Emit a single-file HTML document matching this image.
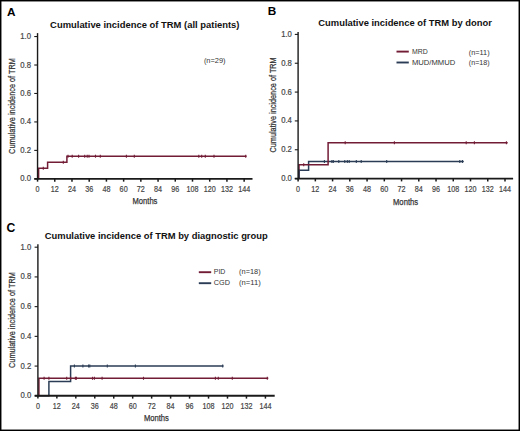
<!DOCTYPE html><html><head><meta charset="utf-8"><style>html,body{margin:0;padding:0;background:#fff;}svg{display:block;}</style></head><body>
<svg width="520" height="431" viewBox="0 0 520 431" font-family="Liberation Sans, sans-serif">
<rect x="0" y="0" width="520" height="431" fill="#fff"/>
<text x="132.50" y="204.30" font-size="9.6" font-weight="normal" fill="#333333" text-anchor="start" textLength="24.9" lengthAdjust="spacingAndGlyphs" stroke="#333333" stroke-width="0.25">Months</text>
<text transform="translate(15.10,153.90) rotate(-90)" font-size="9.8" fill="#333333" stroke="#333333" stroke-width="0.25" textLength="95.9" lengthAdjust="spacingAndGlyphs">Cumulative incidence of TRM</text>
<text x="50.10" y="28.00" font-size="9.9" font-weight="bold" fill="#111" text-anchor="start" textLength="189.4" lengthAdjust="spacingAndGlyphs">Cumulative incidence of TRM (all patients)</text>
<text x="6.90" y="16.30" font-size="11.8" font-weight="bold" fill="#000" text-anchor="start">A</text>
<path d="M38.60,178.85 L38.60,168.30 L47.60,168.30 L47.60,162.30 L66.90,162.30 L66.90,156.20 L246.60,156.20" fill="none" stroke="#721c36" stroke-width="1.5" stroke-linejoin="miter"/>
<line x1="43.30" y1="166.80" x2="43.30" y2="169.80" stroke="#721c36" stroke-width="1.1"/>
<line x1="63.30" y1="160.80" x2="63.30" y2="163.80" stroke="#721c36" stroke-width="1.1"/>
<line x1="68.00" y1="154.70" x2="68.00" y2="157.70" stroke="#721c36" stroke-width="1.1"/>
<line x1="72.20" y1="154.70" x2="72.20" y2="157.70" stroke="#721c36" stroke-width="1.1"/>
<line x1="78.60" y1="154.70" x2="78.60" y2="157.70" stroke="#721c36" stroke-width="1.1"/>
<line x1="84.70" y1="154.70" x2="84.70" y2="157.70" stroke="#721c36" stroke-width="1.1"/>
<line x1="87.20" y1="154.70" x2="87.20" y2="157.70" stroke="#721c36" stroke-width="1.1"/>
<line x1="89.00" y1="154.70" x2="89.00" y2="157.70" stroke="#721c36" stroke-width="1.1"/>
<line x1="95.50" y1="154.70" x2="95.50" y2="157.70" stroke="#721c36" stroke-width="1.1"/>
<line x1="100.30" y1="154.70" x2="100.30" y2="157.70" stroke="#721c36" stroke-width="1.1"/>
<line x1="126.40" y1="154.70" x2="126.40" y2="157.70" stroke="#721c36" stroke-width="1.1"/>
<line x1="134.30" y1="154.70" x2="134.30" y2="157.70" stroke="#721c36" stroke-width="1.1"/>
<line x1="198.80" y1="154.70" x2="198.80" y2="157.70" stroke="#721c36" stroke-width="1.1"/>
<line x1="201.70" y1="154.70" x2="201.70" y2="157.70" stroke="#721c36" stroke-width="1.1"/>
<line x1="205.30" y1="154.70" x2="205.30" y2="157.70" stroke="#721c36" stroke-width="1.1"/>
<line x1="214.00" y1="154.70" x2="214.00" y2="157.70" stroke="#721c36" stroke-width="1.1"/>
<line x1="245.70" y1="154.70" x2="245.70" y2="157.70" stroke="#721c36" stroke-width="1.1"/>
<line x1="37.55" y1="33.10" x2="37.55" y2="179.85" stroke="#1a1a1a" stroke-width="1.4"/>
<line x1="34.30" y1="178.85" x2="252.50" y2="178.85" stroke="#1a1a1a" stroke-width="1.9"/>
<line x1="34.25" y1="178.85" x2="37.55" y2="178.85" stroke="#1a1a1a" stroke-width="1.1"/>
<text transform="translate(31.00,181.35) scale(0.88,1)" font-size="8.8" fill="#454545" stroke="#454545" stroke-width="0.2" text-anchor="end">0.0</text>
<line x1="34.25" y1="150.39" x2="37.55" y2="150.39" stroke="#1a1a1a" stroke-width="1.1"/>
<text transform="translate(31.00,152.89) scale(0.88,1)" font-size="8.8" fill="#454545" stroke="#454545" stroke-width="0.2" text-anchor="end">0.2</text>
<line x1="34.25" y1="121.93" x2="37.55" y2="121.93" stroke="#1a1a1a" stroke-width="1.1"/>
<text transform="translate(31.00,124.43) scale(0.88,1)" font-size="8.8" fill="#454545" stroke="#454545" stroke-width="0.2" text-anchor="end">0.4</text>
<line x1="34.25" y1="93.47" x2="37.55" y2="93.47" stroke="#1a1a1a" stroke-width="1.1"/>
<text transform="translate(31.00,95.97) scale(0.88,1)" font-size="8.8" fill="#454545" stroke="#454545" stroke-width="0.2" text-anchor="end">0.6</text>
<line x1="34.25" y1="65.01" x2="37.55" y2="65.01" stroke="#1a1a1a" stroke-width="1.1"/>
<text transform="translate(31.00,67.51) scale(0.88,1)" font-size="8.8" fill="#454545" stroke="#454545" stroke-width="0.2" text-anchor="end">0.8</text>
<line x1="34.25" y1="36.55" x2="37.55" y2="36.55" stroke="#1a1a1a" stroke-width="1.1"/>
<text transform="translate(31.00,39.05) scale(0.88,1)" font-size="8.8" fill="#454545" stroke="#454545" stroke-width="0.2" text-anchor="end">1.0</text>
<line x1="37.55" y1="178.85" x2="37.55" y2="181.65" stroke="#1a1a1a" stroke-width="1.5"/>
<text transform="translate(37.55,191.70) scale(0.82,1)" font-size="8.8" fill="#454545" stroke="#454545" stroke-width="0.2" text-anchor="middle">0</text>
<line x1="54.77" y1="178.85" x2="54.77" y2="181.65" stroke="#1a1a1a" stroke-width="1.5"/>
<text transform="translate(54.77,191.70) scale(0.82,1)" font-size="8.8" fill="#454545" stroke="#454545" stroke-width="0.2" text-anchor="middle">12</text>
<line x1="71.98" y1="178.85" x2="71.98" y2="181.65" stroke="#1a1a1a" stroke-width="1.5"/>
<text transform="translate(71.98,191.70) scale(0.82,1)" font-size="8.8" fill="#454545" stroke="#454545" stroke-width="0.2" text-anchor="middle">24</text>
<line x1="89.20" y1="178.85" x2="89.20" y2="181.65" stroke="#1a1a1a" stroke-width="1.5"/>
<text transform="translate(89.20,191.70) scale(0.82,1)" font-size="8.8" fill="#454545" stroke="#454545" stroke-width="0.2" text-anchor="middle">36</text>
<line x1="106.42" y1="178.85" x2="106.42" y2="181.65" stroke="#1a1a1a" stroke-width="1.5"/>
<text transform="translate(106.42,191.70) scale(0.82,1)" font-size="8.8" fill="#454545" stroke="#454545" stroke-width="0.2" text-anchor="middle">48</text>
<line x1="123.63" y1="178.85" x2="123.63" y2="181.65" stroke="#1a1a1a" stroke-width="1.5"/>
<text transform="translate(123.63,191.70) scale(0.82,1)" font-size="8.8" fill="#454545" stroke="#454545" stroke-width="0.2" text-anchor="middle">60</text>
<line x1="140.85" y1="178.85" x2="140.85" y2="181.65" stroke="#1a1a1a" stroke-width="1.5"/>
<text transform="translate(140.85,191.70) scale(0.82,1)" font-size="8.8" fill="#454545" stroke="#454545" stroke-width="0.2" text-anchor="middle">72</text>
<line x1="158.06" y1="178.85" x2="158.06" y2="181.65" stroke="#1a1a1a" stroke-width="1.5"/>
<text transform="translate(158.06,191.70) scale(0.82,1)" font-size="8.8" fill="#454545" stroke="#454545" stroke-width="0.2" text-anchor="middle">84</text>
<line x1="175.28" y1="178.85" x2="175.28" y2="181.65" stroke="#1a1a1a" stroke-width="1.5"/>
<text transform="translate(175.28,191.70) scale(0.82,1)" font-size="8.8" fill="#454545" stroke="#454545" stroke-width="0.2" text-anchor="middle">96</text>
<line x1="192.50" y1="178.85" x2="192.50" y2="181.65" stroke="#1a1a1a" stroke-width="1.5"/>
<text transform="translate(192.50,191.70) scale(0.82,1)" font-size="8.8" fill="#454545" stroke="#454545" stroke-width="0.2" text-anchor="middle">108</text>
<line x1="209.71" y1="178.85" x2="209.71" y2="181.65" stroke="#1a1a1a" stroke-width="1.5"/>
<text transform="translate(209.71,191.70) scale(0.82,1)" font-size="8.8" fill="#454545" stroke="#454545" stroke-width="0.2" text-anchor="middle">120</text>
<line x1="226.93" y1="178.85" x2="226.93" y2="181.65" stroke="#1a1a1a" stroke-width="1.5"/>
<text transform="translate(226.93,191.70) scale(0.82,1)" font-size="8.8" fill="#454545" stroke="#454545" stroke-width="0.2" text-anchor="middle">132</text>
<line x1="244.15" y1="178.85" x2="244.15" y2="181.65" stroke="#1a1a1a" stroke-width="1.5"/>
<text transform="translate(244.15,191.70) scale(0.82,1)" font-size="8.8" fill="#454545" stroke="#454545" stroke-width="0.2" text-anchor="middle">144</text>
<text x="203.90" y="62.90" font-size="7.3" font-weight="normal" fill="#333333" text-anchor="start" textLength="21.7" lengthAdjust="spacingAndGlyphs">(n=29)</text>
<text x="393.00" y="204.50" font-size="9.6" font-weight="normal" fill="#333333" text-anchor="start" textLength="25.1" lengthAdjust="spacingAndGlyphs" stroke="#333333" stroke-width="0.25">Months</text>
<text transform="translate(275.90,152.50) rotate(-90)" font-size="9.8" fill="#333333" stroke="#333333" stroke-width="0.25" textLength="95.2" lengthAdjust="spacingAndGlyphs">Cumulative incidence of TRM</text>
<text x="318.30" y="25.80" font-size="9.9" font-weight="bold" fill="#111" text-anchor="start" textLength="173.6" lengthAdjust="spacingAndGlyphs">Cumulative incidence of TRM by donor</text>
<text x="267.80" y="14.50" font-size="11.8" font-weight="bold" fill="#000" text-anchor="start">B</text>
<path d="M299.00,178.60 L299.00,170.20 L308.60,170.20 L308.60,161.60 L463.80,161.60" fill="none" stroke="#2b3d56" stroke-width="1.5" stroke-linejoin="miter"/>
<line x1="324.40" y1="160.10" x2="324.40" y2="163.10" stroke="#2b3d56" stroke-width="1.1"/>
<line x1="331.90" y1="160.10" x2="331.90" y2="163.10" stroke="#2b3d56" stroke-width="1.1"/>
<line x1="333.30" y1="160.10" x2="333.30" y2="163.10" stroke="#2b3d56" stroke-width="1.1"/>
<line x1="338.80" y1="160.10" x2="338.80" y2="163.10" stroke="#2b3d56" stroke-width="1.1"/>
<line x1="344.80" y1="160.10" x2="344.80" y2="163.10" stroke="#2b3d56" stroke-width="1.1"/>
<line x1="347.30" y1="160.10" x2="347.30" y2="163.10" stroke="#2b3d56" stroke-width="1.1"/>
<line x1="349.20" y1="160.10" x2="349.20" y2="163.10" stroke="#2b3d56" stroke-width="1.1"/>
<line x1="356.30" y1="160.10" x2="356.30" y2="163.10" stroke="#2b3d56" stroke-width="1.1"/>
<line x1="361.20" y1="160.10" x2="361.20" y2="163.10" stroke="#2b3d56" stroke-width="1.1"/>
<line x1="386.70" y1="160.10" x2="386.70" y2="163.10" stroke="#2b3d56" stroke-width="1.1"/>
<line x1="459.80" y1="160.10" x2="459.80" y2="163.10" stroke="#2b3d56" stroke-width="1.1"/>
<line x1="462.40" y1="160.10" x2="462.40" y2="163.10" stroke="#2b3d56" stroke-width="1.1"/>
<path d="M299.00,178.60 L299.00,164.80 L328.10,164.80 L328.10,142.80 L507.70,142.80" fill="none" stroke="#721c36" stroke-width="1.5" stroke-linejoin="miter"/>
<line x1="303.70" y1="163.30" x2="303.70" y2="166.30" stroke="#721c36" stroke-width="1.1"/>
<line x1="345.20" y1="141.30" x2="345.20" y2="144.30" stroke="#721c36" stroke-width="1.1"/>
<line x1="394.40" y1="141.30" x2="394.40" y2="144.30" stroke="#721c36" stroke-width="1.1"/>
<line x1="466.20" y1="141.30" x2="466.20" y2="144.30" stroke="#721c36" stroke-width="1.1"/>
<line x1="474.40" y1="141.30" x2="474.40" y2="144.30" stroke="#721c36" stroke-width="1.1"/>
<line x1="506.40" y1="141.30" x2="506.40" y2="144.30" stroke="#721c36" stroke-width="1.1"/>
<line x1="299.00" y1="178.60" x2="299.00" y2="169.50" stroke="#2b3d56" stroke-width="1.5"/>
<line x1="298.10" y1="31.90" x2="298.10" y2="179.60" stroke="#1a1a1a" stroke-width="1.4"/>
<line x1="294.80" y1="178.60" x2="513.10" y2="178.60" stroke="#1a1a1a" stroke-width="1.9"/>
<line x1="294.80" y1="178.60" x2="298.10" y2="178.60" stroke="#1a1a1a" stroke-width="1.1"/>
<text transform="translate(291.90,181.10) scale(0.88,1)" font-size="8.8" fill="#454545" stroke="#454545" stroke-width="0.2" text-anchor="end">0.0</text>
<line x1="294.80" y1="149.76" x2="298.10" y2="149.76" stroke="#1a1a1a" stroke-width="1.1"/>
<text transform="translate(291.90,152.26) scale(0.88,1)" font-size="8.8" fill="#454545" stroke="#454545" stroke-width="0.2" text-anchor="end">0.2</text>
<line x1="294.80" y1="120.92" x2="298.10" y2="120.92" stroke="#1a1a1a" stroke-width="1.1"/>
<text transform="translate(291.90,123.42) scale(0.88,1)" font-size="8.8" fill="#454545" stroke="#454545" stroke-width="0.2" text-anchor="end">0.4</text>
<line x1="294.80" y1="92.08" x2="298.10" y2="92.08" stroke="#1a1a1a" stroke-width="1.1"/>
<text transform="translate(291.90,94.58) scale(0.88,1)" font-size="8.8" fill="#454545" stroke="#454545" stroke-width="0.2" text-anchor="end">0.6</text>
<line x1="294.80" y1="63.24" x2="298.10" y2="63.24" stroke="#1a1a1a" stroke-width="1.1"/>
<text transform="translate(291.90,65.74) scale(0.88,1)" font-size="8.8" fill="#454545" stroke="#454545" stroke-width="0.2" text-anchor="end">0.8</text>
<line x1="294.80" y1="34.40" x2="298.10" y2="34.40" stroke="#1a1a1a" stroke-width="1.1"/>
<text transform="translate(291.90,36.90) scale(0.88,1)" font-size="8.8" fill="#454545" stroke="#454545" stroke-width="0.2" text-anchor="end">1.0</text>
<line x1="298.10" y1="178.60" x2="298.10" y2="181.40" stroke="#1a1a1a" stroke-width="1.5"/>
<text transform="translate(298.10,191.70) scale(0.82,1)" font-size="8.8" fill="#454545" stroke="#454545" stroke-width="0.2" text-anchor="middle">0</text>
<line x1="315.34" y1="178.60" x2="315.34" y2="181.40" stroke="#1a1a1a" stroke-width="1.5"/>
<text transform="translate(315.34,191.70) scale(0.82,1)" font-size="8.8" fill="#454545" stroke="#454545" stroke-width="0.2" text-anchor="middle">12</text>
<line x1="332.58" y1="178.60" x2="332.58" y2="181.40" stroke="#1a1a1a" stroke-width="1.5"/>
<text transform="translate(332.58,191.70) scale(0.82,1)" font-size="8.8" fill="#454545" stroke="#454545" stroke-width="0.2" text-anchor="middle">24</text>
<line x1="349.82" y1="178.60" x2="349.82" y2="181.40" stroke="#1a1a1a" stroke-width="1.5"/>
<text transform="translate(349.82,191.70) scale(0.82,1)" font-size="8.8" fill="#454545" stroke="#454545" stroke-width="0.2" text-anchor="middle">36</text>
<line x1="367.07" y1="178.60" x2="367.07" y2="181.40" stroke="#1a1a1a" stroke-width="1.5"/>
<text transform="translate(367.07,191.70) scale(0.82,1)" font-size="8.8" fill="#454545" stroke="#454545" stroke-width="0.2" text-anchor="middle">48</text>
<line x1="384.31" y1="178.60" x2="384.31" y2="181.40" stroke="#1a1a1a" stroke-width="1.5"/>
<text transform="translate(384.31,191.70) scale(0.82,1)" font-size="8.8" fill="#454545" stroke="#454545" stroke-width="0.2" text-anchor="middle">60</text>
<line x1="401.55" y1="178.60" x2="401.55" y2="181.40" stroke="#1a1a1a" stroke-width="1.5"/>
<text transform="translate(401.55,191.70) scale(0.82,1)" font-size="8.8" fill="#454545" stroke="#454545" stroke-width="0.2" text-anchor="middle">72</text>
<line x1="418.79" y1="178.60" x2="418.79" y2="181.40" stroke="#1a1a1a" stroke-width="1.5"/>
<text transform="translate(418.79,191.70) scale(0.82,1)" font-size="8.8" fill="#454545" stroke="#454545" stroke-width="0.2" text-anchor="middle">84</text>
<line x1="436.03" y1="178.60" x2="436.03" y2="181.40" stroke="#1a1a1a" stroke-width="1.5"/>
<text transform="translate(436.03,191.70) scale(0.82,1)" font-size="8.8" fill="#454545" stroke="#454545" stroke-width="0.2" text-anchor="middle">96</text>
<line x1="453.27" y1="178.60" x2="453.27" y2="181.40" stroke="#1a1a1a" stroke-width="1.5"/>
<text transform="translate(453.27,191.70) scale(0.82,1)" font-size="8.8" fill="#454545" stroke="#454545" stroke-width="0.2" text-anchor="middle">108</text>
<line x1="470.52" y1="178.60" x2="470.52" y2="181.40" stroke="#1a1a1a" stroke-width="1.5"/>
<text transform="translate(470.52,191.70) scale(0.82,1)" font-size="8.8" fill="#454545" stroke="#454545" stroke-width="0.2" text-anchor="middle">120</text>
<line x1="487.76" y1="178.60" x2="487.76" y2="181.40" stroke="#1a1a1a" stroke-width="1.5"/>
<text transform="translate(487.76,191.70) scale(0.82,1)" font-size="8.8" fill="#454545" stroke="#454545" stroke-width="0.2" text-anchor="middle">132</text>
<line x1="505.00" y1="178.60" x2="505.00" y2="181.40" stroke="#1a1a1a" stroke-width="1.5"/>
<text transform="translate(505.00,191.70) scale(0.82,1)" font-size="8.8" fill="#454545" stroke="#454545" stroke-width="0.2" text-anchor="middle">144</text>
<line x1="396.50" y1="51.60" x2="408.80" y2="51.60" stroke="#721c36" stroke-width="1.9"/>
<line x1="396.50" y1="62.50" x2="408.80" y2="62.50" stroke="#2b3d56" stroke-width="1.9"/>
<text x="411.90" y="54.10" font-size="7.4" font-weight="normal" fill="#333333" text-anchor="start" textLength="15.8" lengthAdjust="spacingAndGlyphs">MRD</text>
<text x="411.90" y="64.70" font-size="7.4" font-weight="normal" fill="#333333" text-anchor="start" textLength="43.4" lengthAdjust="spacingAndGlyphs">MUD/MMUD</text>
<text x="468.80" y="54.50" font-size="7.3" font-weight="normal" fill="#333333" text-anchor="start" textLength="20.8" lengthAdjust="spacingAndGlyphs">(n=11)</text>
<text x="468.80" y="65.20" font-size="7.3" font-weight="normal" fill="#333333" text-anchor="start" textLength="20.8" lengthAdjust="spacingAndGlyphs">(n=18)</text>
<text x="143.90" y="421.30" font-size="9.6" font-weight="normal" fill="#333333" text-anchor="start" textLength="25.0" lengthAdjust="spacingAndGlyphs" stroke="#333333" stroke-width="0.25">Months</text>
<text transform="translate(15.20,368.00) rotate(-90)" font-size="9.8" fill="#333333" stroke="#333333" stroke-width="0.25" textLength="96.0" lengthAdjust="spacingAndGlyphs">Cumulative incidence of TRM</text>
<text x="44.80" y="238.50" font-size="9.9" font-weight="bold" fill="#111" text-anchor="start" textLength="222.9" lengthAdjust="spacingAndGlyphs">Cumulative incidence of TRM by diagnostic group</text>
<text x="6.60" y="232.00" font-size="12.2" font-weight="bold" fill="#000" text-anchor="start">C</text>
<path d="M38.00,395.80 L48.90,395.80 L48.90,381.60 L70.60,381.60 L70.60,366.10 L223.50,366.10" fill="none" stroke="#2b3d56" stroke-width="1.5" stroke-linejoin="miter"/>
<line x1="74.40" y1="364.60" x2="74.40" y2="367.60" stroke="#2b3d56" stroke-width="1.1"/>
<line x1="82.90" y1="364.60" x2="82.90" y2="367.60" stroke="#2b3d56" stroke-width="1.1"/>
<line x1="88.60" y1="364.60" x2="88.60" y2="367.60" stroke="#2b3d56" stroke-width="1.1"/>
<line x1="89.80" y1="364.60" x2="89.80" y2="367.60" stroke="#2b3d56" stroke-width="1.1"/>
<line x1="107.30" y1="364.60" x2="107.30" y2="367.60" stroke="#2b3d56" stroke-width="1.1"/>
<line x1="135.40" y1="364.60" x2="135.40" y2="367.60" stroke="#2b3d56" stroke-width="1.1"/>
<line x1="222.70" y1="364.60" x2="222.70" y2="367.60" stroke="#2b3d56" stroke-width="1.1"/>
<path d="M38.90,395.80 L38.90,378.30 L268.30,378.30" fill="none" stroke="#721c36" stroke-width="1.5" stroke-linejoin="miter"/>
<line x1="44.10" y1="376.80" x2="44.10" y2="379.80" stroke="#721c36" stroke-width="1.1"/>
<line x1="48.90" y1="376.80" x2="48.90" y2="379.80" stroke="#721c36" stroke-width="1.1"/>
<line x1="66.70" y1="376.80" x2="66.70" y2="379.80" stroke="#721c36" stroke-width="1.1"/>
<line x1="70.60" y1="376.80" x2="70.60" y2="379.80" stroke="#721c36" stroke-width="1.1"/>
<line x1="75.40" y1="376.80" x2="75.40" y2="379.80" stroke="#721c36" stroke-width="1.1"/>
<line x1="76.40" y1="376.80" x2="76.40" y2="379.80" stroke="#721c36" stroke-width="1.1"/>
<line x1="92.50" y1="376.80" x2="92.50" y2="379.80" stroke="#721c36" stroke-width="1.1"/>
<line x1="94.40" y1="376.80" x2="94.40" y2="379.80" stroke="#721c36" stroke-width="1.1"/>
<line x1="102.10" y1="376.80" x2="102.10" y2="379.80" stroke="#721c36" stroke-width="1.1"/>
<line x1="143.50" y1="376.80" x2="143.50" y2="379.80" stroke="#721c36" stroke-width="1.1"/>
<line x1="215.40" y1="376.80" x2="215.40" y2="379.80" stroke="#721c36" stroke-width="1.1"/>
<line x1="218.30" y1="376.80" x2="218.30" y2="379.80" stroke="#721c36" stroke-width="1.1"/>
<line x1="232.30" y1="376.80" x2="232.30" y2="379.80" stroke="#721c36" stroke-width="1.1"/>
<line x1="267.30" y1="376.80" x2="267.30" y2="379.80" stroke="#721c36" stroke-width="1.1"/>
<line x1="37.90" y1="244.30" x2="37.90" y2="396.80" stroke="#1a1a1a" stroke-width="1.4"/>
<line x1="34.70" y1="395.80" x2="274.70" y2="395.80" stroke="#1a1a1a" stroke-width="1.9"/>
<line x1="34.60" y1="395.80" x2="37.90" y2="395.80" stroke="#1a1a1a" stroke-width="1.1"/>
<text transform="translate(31.30,398.30) scale(0.88,1)" font-size="8.8" fill="#454545" stroke="#454545" stroke-width="0.2" text-anchor="end">0.0</text>
<line x1="34.60" y1="366.08" x2="37.90" y2="366.08" stroke="#1a1a1a" stroke-width="1.1"/>
<text transform="translate(31.30,368.58) scale(0.88,1)" font-size="8.8" fill="#454545" stroke="#454545" stroke-width="0.2" text-anchor="end">0.2</text>
<line x1="34.60" y1="336.36" x2="37.90" y2="336.36" stroke="#1a1a1a" stroke-width="1.1"/>
<text transform="translate(31.30,338.86) scale(0.88,1)" font-size="8.8" fill="#454545" stroke="#454545" stroke-width="0.2" text-anchor="end">0.4</text>
<line x1="34.60" y1="306.64" x2="37.90" y2="306.64" stroke="#1a1a1a" stroke-width="1.1"/>
<text transform="translate(31.30,309.14) scale(0.88,1)" font-size="8.8" fill="#454545" stroke="#454545" stroke-width="0.2" text-anchor="end">0.6</text>
<line x1="34.60" y1="276.92" x2="37.90" y2="276.92" stroke="#1a1a1a" stroke-width="1.1"/>
<text transform="translate(31.30,279.42) scale(0.88,1)" font-size="8.8" fill="#454545" stroke="#454545" stroke-width="0.2" text-anchor="end">0.8</text>
<line x1="34.60" y1="247.20" x2="37.90" y2="247.20" stroke="#1a1a1a" stroke-width="1.1"/>
<text transform="translate(31.30,249.70) scale(0.88,1)" font-size="8.8" fill="#454545" stroke="#454545" stroke-width="0.2" text-anchor="end">1.0</text>
<line x1="37.90" y1="395.80" x2="37.90" y2="398.60" stroke="#1a1a1a" stroke-width="1.5"/>
<text transform="translate(37.90,408.70) scale(0.82,1)" font-size="8.8" fill="#454545" stroke="#454545" stroke-width="0.2" text-anchor="middle">0</text>
<line x1="56.86" y1="395.80" x2="56.86" y2="398.60" stroke="#1a1a1a" stroke-width="1.5"/>
<text transform="translate(56.86,408.70) scale(0.82,1)" font-size="8.8" fill="#454545" stroke="#454545" stroke-width="0.2" text-anchor="middle">12</text>
<line x1="75.82" y1="395.80" x2="75.82" y2="398.60" stroke="#1a1a1a" stroke-width="1.5"/>
<text transform="translate(75.82,408.70) scale(0.82,1)" font-size="8.8" fill="#454545" stroke="#454545" stroke-width="0.2" text-anchor="middle">24</text>
<line x1="94.78" y1="395.80" x2="94.78" y2="398.60" stroke="#1a1a1a" stroke-width="1.5"/>
<text transform="translate(94.78,408.70) scale(0.82,1)" font-size="8.8" fill="#454545" stroke="#454545" stroke-width="0.2" text-anchor="middle">36</text>
<line x1="113.74" y1="395.80" x2="113.74" y2="398.60" stroke="#1a1a1a" stroke-width="1.5"/>
<text transform="translate(113.74,408.70) scale(0.82,1)" font-size="8.8" fill="#454545" stroke="#454545" stroke-width="0.2" text-anchor="middle">48</text>
<line x1="132.69" y1="395.80" x2="132.69" y2="398.60" stroke="#1a1a1a" stroke-width="1.5"/>
<text transform="translate(132.69,408.70) scale(0.82,1)" font-size="8.8" fill="#454545" stroke="#454545" stroke-width="0.2" text-anchor="middle">60</text>
<line x1="151.65" y1="395.80" x2="151.65" y2="398.60" stroke="#1a1a1a" stroke-width="1.5"/>
<text transform="translate(151.65,408.70) scale(0.82,1)" font-size="8.8" fill="#454545" stroke="#454545" stroke-width="0.2" text-anchor="middle">72</text>
<line x1="170.61" y1="395.80" x2="170.61" y2="398.60" stroke="#1a1a1a" stroke-width="1.5"/>
<text transform="translate(170.61,408.70) scale(0.82,1)" font-size="8.8" fill="#454545" stroke="#454545" stroke-width="0.2" text-anchor="middle">84</text>
<line x1="189.57" y1="395.80" x2="189.57" y2="398.60" stroke="#1a1a1a" stroke-width="1.5"/>
<text transform="translate(189.57,408.70) scale(0.82,1)" font-size="8.8" fill="#454545" stroke="#454545" stroke-width="0.2" text-anchor="middle">96</text>
<line x1="208.53" y1="395.80" x2="208.53" y2="398.60" stroke="#1a1a1a" stroke-width="1.5"/>
<text transform="translate(208.53,408.70) scale(0.82,1)" font-size="8.8" fill="#454545" stroke="#454545" stroke-width="0.2" text-anchor="middle">108</text>
<line x1="227.49" y1="395.80" x2="227.49" y2="398.60" stroke="#1a1a1a" stroke-width="1.5"/>
<text transform="translate(227.49,408.70) scale(0.82,1)" font-size="8.8" fill="#454545" stroke="#454545" stroke-width="0.2" text-anchor="middle">120</text>
<line x1="246.45" y1="395.80" x2="246.45" y2="398.60" stroke="#1a1a1a" stroke-width="1.5"/>
<text transform="translate(246.45,408.70) scale(0.82,1)" font-size="8.8" fill="#454545" stroke="#454545" stroke-width="0.2" text-anchor="middle">132</text>
<line x1="265.41" y1="395.80" x2="265.41" y2="398.60" stroke="#1a1a1a" stroke-width="1.5"/>
<text transform="translate(265.41,408.70) scale(0.82,1)" font-size="8.8" fill="#454545" stroke="#454545" stroke-width="0.2" text-anchor="middle">144</text>
<line x1="198.80" y1="272.20" x2="211.20" y2="272.20" stroke="#721c36" stroke-width="1.9"/>
<line x1="198.80" y1="283.20" x2="211.20" y2="283.20" stroke="#2b3d56" stroke-width="1.9"/>
<text x="213.80" y="274.40" font-size="7.4" font-weight="normal" fill="#333333" text-anchor="start" textLength="11.6" lengthAdjust="spacingAndGlyphs">PID</text>
<text x="213.80" y="285.30" font-size="7.4" font-weight="normal" fill="#333333" text-anchor="start" textLength="16.2" lengthAdjust="spacingAndGlyphs">CGD</text>
<text x="239.10" y="274.40" font-size="7.3" font-weight="normal" fill="#333333" text-anchor="start" textLength="21.6" lengthAdjust="spacingAndGlyphs">(n=18)</text>
<text x="239.10" y="285.40" font-size="7.3" font-weight="normal" fill="#333333" text-anchor="start" textLength="21.6" lengthAdjust="spacingAndGlyphs">(n=11)</text>
<rect x="0.7" y="0.7" width="518.6" height="429.6" fill="none" stroke="#000" stroke-width="1.5"/>
</svg></body></html>
